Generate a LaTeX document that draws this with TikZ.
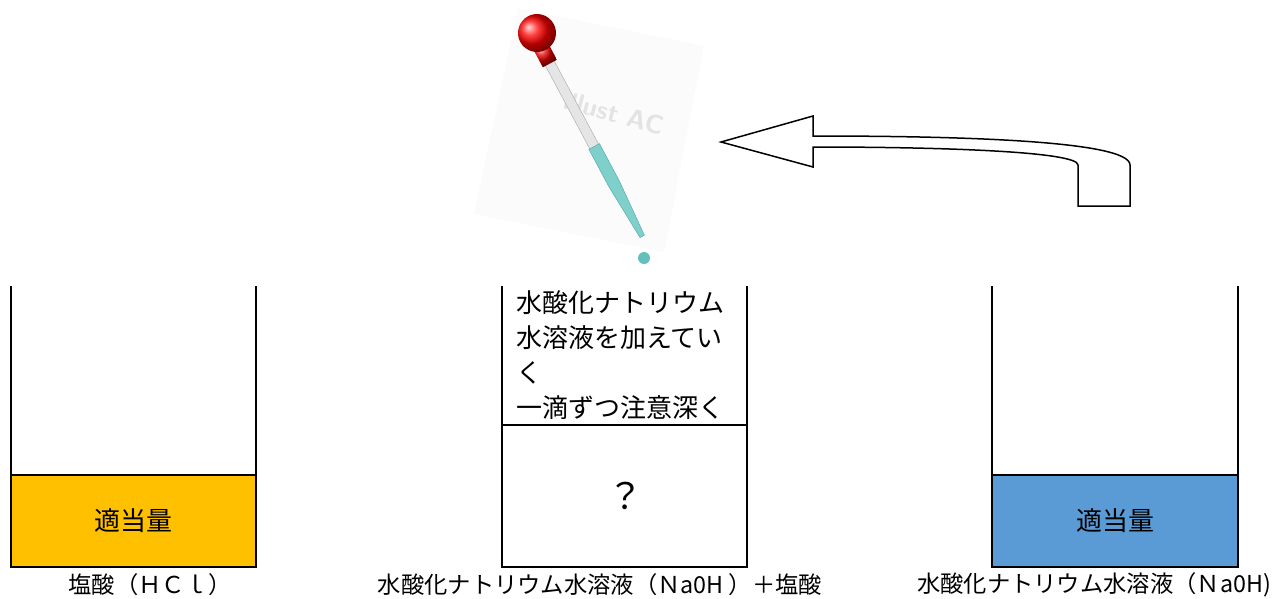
\documentclass[tikz,border=0pt]{standalone}
\usepackage{fontspec}
\setmainfont{Noto Sans CJK JP}
\usetikzlibrary{positioning}

\definecolor{acidfill}{HTML}{FFC000}
\definecolor{basefill}{HTML}{5B9BD5}
\definecolor{tubeliquid}{HTML}{7FCFCB}

\begin{document}
\begin{tikzpicture}[
    x=1pt, y=-1pt,
    wall/.style={line width=2pt},
    liquid/.style={rectangle, draw, line width=2pt, minimum width=245pt, minimum height=92pt,
        inner sep=0pt, font=\fontsize{26}{30}\selectfont},
    beakername/.style={inner sep=0pt, font=\fontsize{23.3}{28}\selectfont},
    note/.style={inner sep=0pt, align=left, font=\fontsize{26}{35}\selectfont}
]
\useasboundingbox (0,0) rectangle (1273,599);

% Beaker with hydrochloric acid
\draw[wall] (11,286) -- (11,567) -- (256,567) -- (256,286);
\node[liquid, fill=acidfill] (acid) at (133.5,521) {適当量};
\node[beakername] (acidname) at (150,585) {塩酸（ＨＣｌ）};

% Beaker in the middle, being titrated
\draw[wall] (502,286) -- (502,567) -- (747,567) -- (747,286);
\draw[wall] (502,425) -- (747,425);
\node[note, anchor=north west] (howto) at (516,290) {水酸化ナトリウム\\水溶液を加えてい\\く\\一滴ずつ注意深く};
\node[font=\fontsize{36}{36}\selectfont] (mix) at (625,496) {？};
\node[beakername] (mixname) at (600,585) {水酸化ナトリウム水溶液（Ｎa0H ）＋塩酸};

% Beaker with sodium hydroxide
\draw[wall] (992,286) -- (992,567) -- (1238,567) -- (1238,286);
\node[liquid, fill=basefill, minimum width=246pt] (base) at (1115,521) {適当量};
\node[beakername] (basename) at (1094,585) {水酸化ナトリウム水溶液（Ｎa0H)};

% Dropper
\fill[gray!3] (518,8) -- (704,46) -- (664,252) -- (474,214) -- cycle;
\node[rotate=-15, text=gray!22, font=\sffamily\bfseries\fontsize{26}{26}\selectfont] (mark) at (614,113) {illust AC};
\begin{scope}[shift={(548,60)}, rotate=-61.9]
  \draw[gray!70, fill=gray!20] (0,-5) rectangle (100,5);
  \draw[teal!70, fill=tubeliquid] (98,-6) -- (140,-6) -- (200,-2.5) -- (200,2.5) -- (140,6) -- (98,6) -- cycle;
  \shade[ball color=red!90!black] (-17,-8) rectangle (4,8);
  \shade[ball color=red] (-29,-3) circle (19);
\end{scope}
\fill[tubeliquid!80!teal] (644,258) circle (6);

% Big hollow arrow pointing to the dropper
\draw[line width=1.5pt, fill=white] (721,142) -- (813,116) -- (813,136)
    .. controls (950,136) and (1130,140) .. (1130,165) -- (1130,206) -- (1078,206) -- (1078,165)
    .. controls (1078,152) and (950,147) .. (813,147) -- (813,167) -- cycle;

\end{tikzpicture}
\end{document}
